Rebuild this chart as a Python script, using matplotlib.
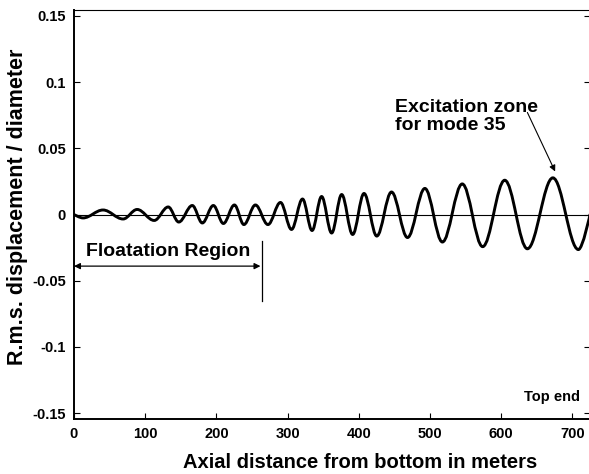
import matplotlib
matplotlib.use("Agg")
import matplotlib.pyplot as plt
from matplotlib.path import Path
from matplotlib.patches import PathPatch

plt.rcParams["font.family"] = "Liberation Sans"
plt.rcParams["font.weight"] = "bold"

# extrema of the rms displacement profile along the riser (m, rms/diameter)
peak_x = [0, 12.7, 40.8, 69.0, 88.7, 112.7, 132.4, 147.2, 166.2, 180.3, 195.8, 209.9,
          225.4, 238.7, 254.9, 272.5, 290.1, 305.6, 321.1, 334.5, 347.9, 362.0,
          376.1, 391.5, 407.5, 425.4, 446.1, 468.6, 493.0, 517.6, 545.5, 574.2,
          605.2, 637.0, 672.8, 708.7, 725.0]
peak_y = [0.0, -0.0026, 0.0034, -0.0034, 0.0038, -0.0045, 0.0057, -0.0057, 0.0068, -0.0064,
          0.0068, -0.0068, 0.0072, -0.0076, 0.0072, -0.0076, 0.0091, -0.0113, 0.0117,
          -0.0121, 0.0136, -0.0140, 0.0151, -0.0151, 0.0159, -0.0163, 0.0170, -0.0174,
          0.0197, -0.0208, 0.0231, -0.0243, 0.0259, -0.0259, 0.0277, -0.0265, 0.0]

x_ticks = [0, 100, 200, 300, 400, 500, 600, 700]
y_ticks = [0.15, 0.1, 0.05, 0, -0.05, -0.1, -0.15]
y_tick_labels = ["0.15", "0.1", "0.05", "0", "-0.05", "-0.1", "-0.15"]

float_end = 262       # end of floatation region (m)
float_marker = 264    # vertical marker position (m)

fig = plt.figure(figsize=(5.89, 4.74), dpi=100)
ax = fig.add_axes([74 / 589, 55 / 474, 516 / 589, 409 / 474])

# smooth curve through the extrema: cubic segments with flat tangents at the peaks
k = 0.364
verts = [(peak_x[0], peak_y[0])]
codes = [Path.MOVETO]
n = len(peak_x)
for i in range(n - 1):
    xa, ya, xb, yb = peak_x[i], peak_y[i], peak_x[i + 1], peak_y[i + 1]
    dx = xb - xa
    c1 = (xa + (0 if i == 0 else k) * dx, ya)
    c2 = (xb - (0 if i == n - 2 else k) * dx, yb)
    verts += [c1, c2, (xb, yb)]
    codes += [Path.CURVE4] * 3
ax.add_patch(PathPatch(Path(verts, codes), fill=False, lw=2.1, ec="black",
                       capstyle="round", joinstyle="round", zorder=3))

ax.axhline(0, color="black", lw=0.8, zorder=2)

ax.set_xlim(0, 725)
ax.set_ylim(-0.1545, 0.1545)
ax.set_xticks(x_ticks)
ax.set_yticks(y_ticks)
ax.set_yticklabels(y_tick_labels)
ax.tick_params(direction="in", length=4, width=0.8, labelsize=10.5, right=True,
               top=False, pad=6)
for lab in ax.get_xticklabels() + ax.get_yticklabels():
    lab.set_fontweight("bold")
for side in ["left", "bottom"]:
    ax.spines[side].set_linewidth(1.4)
for side in ["top", "right"]:
    ax.spines[side].set_linewidth(0.8)

ax.set_xlabel("Axial distance from bottom in meters", fontsize=14.5, fontweight="bold")
ax.xaxis.set_label_coords(0.555, -0.083)
ax.set_ylabel("R.m.s. displacement / diameter", fontsize=15.5, fontweight="bold")
ax.yaxis.set_label_coords(-0.09, 0.52)

# floatation region marker
ax.text(17, -0.0317, "Floatation Region", fontsize=14, fontweight="bold")
ax.annotate("", xy=(0, -0.039), xytext=(float_end, -0.039),
            arrowprops=dict(arrowstyle="<|-|>", color="black", lw=0.9,
                            mutation_scale=9, shrinkA=0, shrinkB=0))
ax.plot([float_marker, float_marker], [-0.020, -0.0655], color="black", lw=0.9)

# excitation zone callout
ax.text(451, 0.087, "Excitation zone\nfor mode 35", fontsize=14, fontweight="bold",
        va="top", ha="left", linespacing=1.05)
ax.annotate("", xy=(676, 0.0325), xytext=(637, 0.0771),
            arrowprops=dict(arrowstyle="-|>", color="black", lw=0.8, mutation_scale=9,
                            shrinkA=0, shrinkB=0))

ax.text(711, -0.1406, "Top end", fontsize=10.5, fontweight="bold", ha="right", va="baseline")

fig.savefig("out.png", dpi=100)
